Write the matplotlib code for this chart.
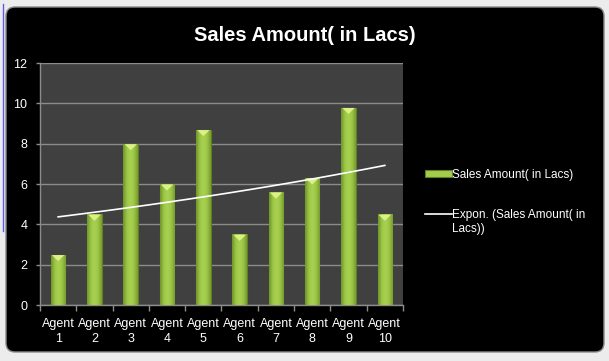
"""
Sales amount per agent (in Lacs) with an exponential trendline, Excel dark style.
"""
import numpy as np
import matplotlib
matplotlib.use("Agg")
import matplotlib.pyplot as plt
from matplotlib.patches import FancyBboxPatch, Polygon, Patch
from matplotlib.lines import Line2D
from matplotlib.colors import LinearSegmentedColormap

# Data
agents = ["Agent\n1", "Agent\n2", "Agent\n3", "Agent\n4", "Agent\n5",
          "Agent\n6", "Agent\n7", "Agent\n8", "Agent\n9", "Agent\n10"]
sales = [2.5, 4.5, 8.0, 6.0, 8.7, 3.5, 5.6, 6.3, 9.8, 4.5]
y_ticks = [0, 2, 4, 6, 8, 10, 12]

title = "Sales Amount( in Lacs)"
series_label = "Sales Amount( in Lacs)"
trend_label = "Expon. (Sales Amount( in\nLacs))"

plt.rcParams["font.family"] = ["Liberation Sans", "DejaVu Sans"]

fig = plt.figure(figsize=(6.09, 3.61), dpi=100, facecolor="#ececec")

# Black chart area with rounded corners (pixel based)
frame = FancyBboxPatch((0.06, 0.09), 5.98, 3.45,
                       boxstyle="round,pad=0,rounding_size=0.09",
                       transform=fig.dpi_scale_trans, facecolor="black",
                       edgecolor="#8a8a8a", lw=1.0, zorder=-5)
fig.patches.append(frame)
# selection marker line at the left edge
fig.add_artist(Line2D([0.005, 0.005], [0.36, 0.99], transform=fig.transFigure,
                      color="#5a5af0", lw=1.0, zorder=-4))

ax = fig.add_axes([0.0657, 0.155, 0.596, 0.670])
ax.set_facecolor("#404040")

x = np.arange(len(sales))
width = 0.4
bars = ax.bar(x, sales, width=width, color="#94bd40", edgecolor="#5f7f22",
              lw=0.8, zorder=3)

# horizontal gradient inside every bar
cmap = LinearSegmentedColormap.from_list(
    "bar", ["#6e9228", "#9cc646", "#a9d152", "#9cc646", "#789a2e"])
grad = np.linspace(0, 1, 64).reshape(1, -1)
for b, v in zip(bars, sales):
    x0 = b.get_x()
    im = ax.imshow(grad, cmap=cmap, aspect="auto", zorder=3.5,
                   extent=(x0, x0 + width, 0, v), interpolation="bicubic")
    im.set_clip_path(b)
    # light bevel triangle at the top
    tri = Polygon([(x0 + 0.03, v - 0.02), (x0 + width - 0.03, v - 0.02),
                   (x0 + width / 2, v - 0.32)], closed=True,
                  facecolor="#dcf08a", edgecolor="none", zorder=4)
    ax.add_patch(tri)

# Exponential trendline fitted on the data
coef = np.polyfit(x + 1, np.log(sales), 1)
xt = np.linspace(1, len(sales), 100)
ax.plot(xt - 1, np.exp(coef[1]) * np.exp(coef[0] * xt), color="white",
        lw=1.2, zorder=5)

ax.set_xlim(-0.5, len(sales) - 0.5)
ax.set_ylim(0, 12)
ax.set_yticks(y_ticks)
ax.yaxis.grid(True, color="#8c8c8c", lw=1.0, zorder=1)
ax.set_axisbelow(True)

ax.set_xticks(x)
ax.set_xticklabels(agents)
ax.set_xticks(np.arange(-0.5, len(sales), 1), minor=True)
ax.tick_params(axis="x", which="major", length=0, pad=9,
               labelcolor="white", labelsize=9)
ax.tick_params(axis="x", which="minor", length=4, color="#8c8c8c", width=1)
ax.tick_params(axis="y", length=3, color="#8c8c8c", width=1,
               labelcolor="white", labelsize=9, pad=6)
for lab in ax.get_xticklabels():
    lab.set_linespacing(1.4)

for s in ["top", "right"]:
    ax.spines[s].set_visible(False)
for s in ["left", "bottom"]:
    ax.spines[s].set_color("#8c8c8c")
    ax.spines[s].set_linewidth(1.0)

fig.text(0.5, 0.903, title, ha="center", va="center", color="white",
         fontsize=14.5, fontweight="bold")

handles = [Patch(facecolor="#a3cc4c", edgecolor="#5f7f22", lw=0.8),
           Line2D([0], [0], color="white", lw=1.2)]
leg = fig.legend(handles, [series_label, trend_label], loc="upper left",
                 bbox_to_anchor=(0.68, 0.562), frameon=False,
                 labelcolor="white", fontsize=8.5, handlelength=2.3,
                 handleheight=0.6, handletextpad=0.05, labelspacing=2.4)
# put the trendline handle at the first line of its wrapped label
for h in leg.legend_handles:
    if isinstance(h, Line2D):
        h.set_ydata(np.asarray(h.get_ydata(), dtype=float) + 6)

fig.savefig("out.png", dpi=100, facecolor=fig.get_facecolor())
